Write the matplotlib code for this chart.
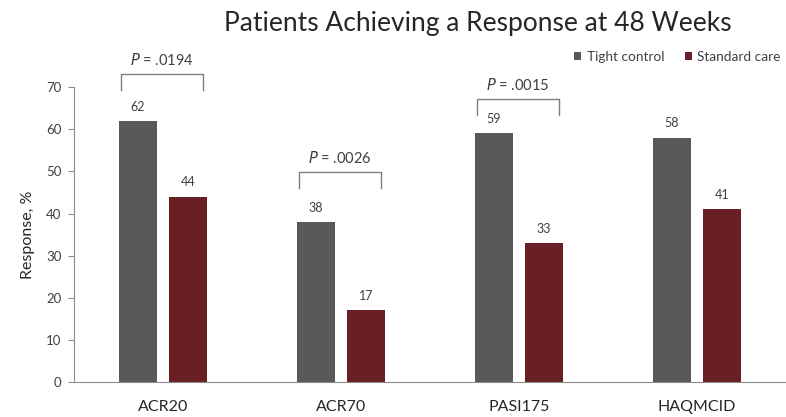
import matplotlib
matplotlib.use("Agg")
import matplotlib.pyplot as plt
import numpy as np

plt.rcParams['font.family'] = ['Lato', 'DejaVu Sans']

categories = ["ACR20", "ACR70", "PASI175", "HAQMCID"]
tight_control = [62, 38, 59, 58]
standard_care = [44, 17, 33, 41]
series_names = ["Tight control", "Standard care"]
p_labels = {0: ".0194", 1: ".0026", 2: ".0015"}
# bracket base heights (data units) for the p-value brackets
bracket_base = {0: 69.3, 1: 46.0, 2: 63.4}

gray = "#595959"
red = "#6a1f24"
text_col = "#404040"

fig = plt.figure(figsize=(7.86, 4.17), dpi=100)
ax = fig.add_axes([0.094, 0.084, 0.906, 0.707])

x = np.arange(len(categories))
w = 0.213
off = 0.14
b1 = ax.bar(x - off, tight_control, w, color=gray, label=series_names[0])
b2 = ax.bar(x + off, standard_care, w, color=red, label=series_names[1])

for bars, vals in ((b1, tight_control), (b2, standard_care)):
    for rect, v in zip(bars, vals):
        ax.annotate(str(v), (rect.get_x() + rect.get_width() / 2, v),
                    xytext=(0, 6), textcoords="offset points",
                    ha="center", va="bottom", fontsize=9, color=text_col)

# significance brackets above each pair
for i, p in p_labels.items():
    y0 = bracket_base[i]
    h = 3.8
    xl = x[i] - off - w / 2 + 0.01
    xr = x[i] + off + w / 2 - 0.02
    ax.plot([xl, xl, xr, xr], [y0, y0 + h, y0 + h, y0], color="#7f7f7f",
            lw=1.0, clip_on=False)
    ax.text((xl + xr) / 2, y0 + h + 1.4, r"$\it{P}$" + " = " + p,
            ha="center", va="bottom", fontsize=10.5, color=text_col)

ax.set_xlim(-0.5, 3.5)
ax.set_ylim(0, 70)
ax.set_yticks(range(0, 71, 10))
ax.set_xticks(x)
ax.set_xticklabels(categories, fontsize=11.5, color="#262626")
ax.tick_params(axis="x", length=0, pad=13)
ax.tick_params(axis="y", length=4, color="#8c8c8c", labelsize=9.5,
               labelcolor=text_col, pad=5)
for s in ("top", "right"):
    ax.spines[s].set_visible(False)
for s in ("left", "bottom"):
    ax.spines[s].set_color("#8c8c8c")
ax.set_ylabel("Response, %", fontsize=11.5, color="#262626", labelpad=8)

ax.legend(loc="upper right", bbox_to_anchor=(1.01, 1.165), ncol=2, frameon=False,
          fontsize=9.8, handlelength=0.55, handleheight=0.55, handletextpad=0.4,
          columnspacing=1.5, labelcolor=text_col)

fig.suptitle("Patients Achieving a Response at 48 Weeks", x=0.608, y=0.973,
             fontsize=19, color="#262626")

fig.savefig("out.png", dpi=100)
